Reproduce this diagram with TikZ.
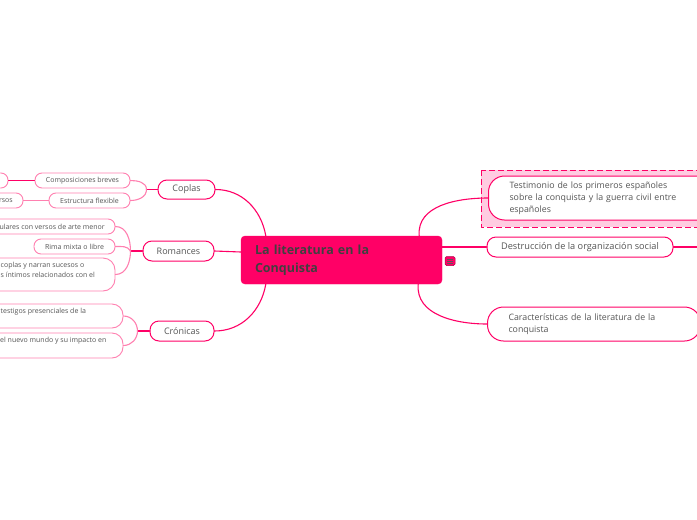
\documentclass[tikz,border=0pt]{standalone}
\usepackage{fontspec}
\setmainfont{Open Sans}
\usepackage{xcolor}
\usepackage{tikz}
\usetikzlibrary{positioning}
\definecolor{MapPink}{RGB}{255,0,102}
\definecolor{MapLight}{RGB}{255,128,176}
\definecolor{MapShade}{RGB}{255,204,225}
\definecolor{MapText}{RGB}{85,85,85}
\tikzset{
  rootbox/.style  ={fill=MapPink, draw=MapPink, rounded corners=4pt, text=black!75,
                    font=\fontsize{12.5}{18}\selectfont\bfseries, align=left,
                    inner xsep=14pt, inner ysep=0pt},
  topicbox/.style ={draw=MapPink, fill=white, line width=1pt, rounded corners=9pt,
                    text=MapText, font=\fontsize{9}{11}\selectfont, inner sep=0pt},
  rightbox/.style ={draw=MapPink, fill=white, line width=1pt, rounded corners=16pt,
                    text=MapText, font=\fontsize{8.8}{12}\selectfont, align=left,
                    inner xsep=21pt, inner ysep=0pt},
  subbox/.style   ={draw=MapLight, fill=white, line width=0.9pt, rounded corners=7pt,
                    text=MapText, font=\fontsize{7}{10}\selectfont, inner sep=0pt},
  subtext/.style  ={text=MapText, font=\fontsize{7}{10}\selectfont, inner sep=0pt,
                    align=left},
  mainlink/.style ={draw=MapPink, line width=1.1pt},
  sublink/.style  ={draw=MapLight, line width=1.1pt},
}

\begin{document}
\begin{tikzpicture}[
  x=1pt,y=-1pt,
  line cap=round,
  line join=round
]

% --- Page ----------------------------------------------------------------
\useasboundingbox (0,0) rectangle (697,520);
\fill[white] (0,0) rectangle (697,520);
\clip (0,0) rectangle (697,520);

% --- Central topic -------------------------------------------------------
\node[rootbox, minimum width=201pt, minimum height=48pt, text width=173pt]
  (root) at (341.5,260) {La literatura en la\\Conquista};
\node[fill=MapPink, draw=MapPink!70!black, rounded corners=1.5pt, line width=0.5pt,
      minimum width=10pt, minimum height=9pt, inner sep=0pt]
  (note) at (450,261) {};
\foreach \dy in {-2.2,0,2.2}
  \draw[black!65, line width=0.6pt, line cap=butt]
    ([xshift=-2.8pt,yshift=\dy pt]note.center) -- ([xshift=2.8pt,yshift=\dy pt]note.center);

% --- Right: main topics --------------------------------------------------
\fill[MapShade] (481,170) rectangle (710,227);
\draw[MapPink, line width=1pt, dash pattern=on 6pt off 3pt, line cap=butt]
  (481,170) rectangle (710,227);

\node[rightbox, minimum height=44pt, text width=185pt, anchor=west]
  (testi) at (488,198)
  {Testimonio de los primeros españoles\\sobre la conquista y la guerra civil entre\\españoles};
\node[topicbox, minimum width=186pt, minimum height=20pt,
      font=\fontsize{9.2}{11}\selectfont]
  (destru) at (580,247) {Destrucción de la organización social};
\node[rightbox, minimum height=34pt, text width=171pt, anchor=west]
  (carac) at (487,324) {Características de la literatura de la\\conquista};
\coordinate (destout) at (705,247);

\draw[mainlink] ([xshift=-23pt]root.north east) to[out=95, in=180] (testi.west);
\draw[mainlink] ([yshift=13pt]root.east) to[out=0, in=180] (destru.west);
\draw[mainlink] (destru.east) -- (destout);
\draw[mainlink] ([xshift=-24pt]root.south east) to[out=-95, in=180] (carac.west);

% --- Left: main topics ---------------------------------------------------
\node[topicbox, minimum width=57pt, minimum height=19pt]
  (coplas) at (186.5,189.5) {Coplas};
\node[topicbox, minimum width=71pt, minimum height=20pt]
  (roman) at (178.5,251) {Romances};
\node[topicbox, minimum width=64pt, minimum height=20pt]
  (cron) at (182,331) {Crónicas};

\draw[mainlink] ([xshift=25pt]root.north west) to[out=100, in=0] (coplas.east);
\draw[mainlink] ([yshift=8pt]root.west) -- (roman.east);
\draw[mainlink] ([xshift=25pt]root.south west) to[out=-100, in=0] (cron.east);

% --- Coplas: subtopics ---------------------------------------------------
\node[subbox, minimum width=95pt, minimum height=15pt]
  (breves) at (82.5,180.5) {Composiciones breves};
\node[subbox, minimum width=81pt, minimum height=15pt]
  (flexi) at (89.5,200.5) {Estructura flexible};
\node[subbox, minimum width=48pt, minimum height=15pt]
  (brevesout) at (-16,180.5) {};
\node[subbox, minimum width=63pt, minimum height=15pt]
  (flexiout) at (-8.5,200.5) {};
\node[subtext, anchor=east] at (13,200.5) {rsos};

\coordinate[left=11pt of coplas] (coplasj);
\draw[mainlink] (coplas.west) -- (coplasj);
\draw[sublink] (coplasj) to[out=90, in=0] (breves.east);
\draw[sublink] (coplasj) to[out=-90, in=0] (flexi.east);
\draw[draw=MapPink, line width=0.8pt] (breves.west) -- (brevesout.east);
\draw[sublink, line width=1.8pt] (flexi.west) -- (flexiout.east);

% --- Romances: subtopics -------------------------------------------------
\node[subbox, minimum width=175pt, minimum height=15pt]
  (arte) at (27.5,226.5) {};
\node[subtext, anchor=east] at (105,226.5) {ulares con versos de arte menor};
\node[subbox, minimum width=81pt, minimum height=15pt]
  (rima) at (74.5,246.5) {Rima mixta o libre};
\node[subbox, minimum width=175pt, minimum height=33pt, rounded corners=12pt]
  (suceso) at (27.5,274.5) {};
\node[subtext, anchor=north west] at (0.5,262)
  {coplas y narran sucesos o\\s íntimos relacionados con el};

\coordinate[left=12pt of roman] (romanj);
\draw[mainlink] (roman.west) -- (romanj);
\draw[sublink] (romanj) to[out=90, in=0] (arte.east);
\draw[sublink] (romanj) to[out=120, in=0] (rima.east);
\draw[sublink] (romanj) to[out=-90, in=0] (suceso.east);

% --- Crónicas: subtopics -------------------------------------------------
\node[subbox, minimum width=183pt, minimum height=24pt, rounded corners=11pt]
  (testigo) at (31.5,316) {};
\node[subtext, anchor=west] at (0.5,312) {testigos presenciales de la};
\node[subbox, minimum width=183pt, minimum height=25pt, rounded corners=11pt]
  (mundo) at (31.5,345.5) {};
\node[subtext, anchor=west] at (0,341) {el nuevo mundo y su impacto en};

\coordinate[left=12pt of cron] (cronj);
\draw[mainlink] (cron.west) -- (cronj);
\draw[sublink] (cronj) to[out=90, in=0] (testigo.east);
\draw[sublink] (cronj) to[out=-90, in=0] (mundo.east);

\end{tikzpicture}
\end{document}
